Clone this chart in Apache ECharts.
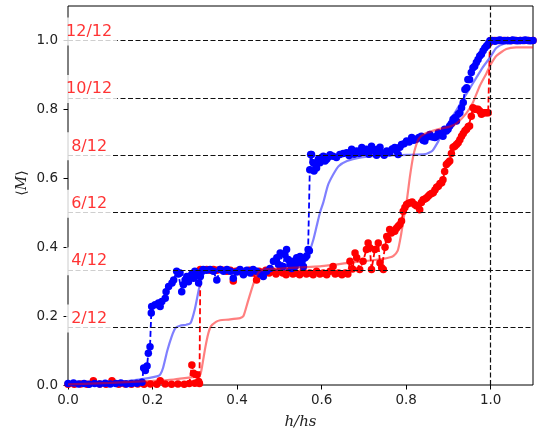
<!DOCTYPE html>
<html>
<head>
<meta charset="utf-8">
<script src="https://cdn.jsdelivr.net/npm/echarts@6/dist/echarts.min.js"></script>
<style>html,body{margin:0;padding:0;background:#fff;}#chart{width:540px;height:435px;}</style>
</head>
<body>
<div id="chart"></div>
<script>
// ---- data ----
const tickValues = [0, 0.2, 0.4, 0.6, 0.8, 1.0];
const levelLabels = ['2/12', '4/12', '6/12', '8/12', '10/12', '12/12'];
const levelValues = [2/12, 4/12, 6/12, 8/12, 10/12, 12/12];

// blue markers (dashed)
const blueX = [0.000,0.013,0.025,0.038,0.050,0.063,0.075,0.088,0.100,0.113,0.125,0.138,0.150,0.163,0.175,
  0.179,0.183,0.187,0.190,0.194,0.197,0.198,0.206,0.214,0.218,0.222,0.230,0.232,0.238,0.246,0.250,0.257,0.261,0.265,0.269,0.273,0.277,0.281,0.285,0.289,0.293,0.297,0.300,0.305,0.309,0.313,0.317,0.320,0.328,0.336,0.344,0.352,0.360,0.368,0.376,0.384,0.391,0.399,0.407,0.415,0.423,0.431,0.438,0.446,0.454,0.462,0.470,0.478,0.486,0.494,0.498,0.502,0.509,0.513,0.517,0.521,0.525,0.529,0.533,0.537,0.541,0.545,0.549,0.553,0.557,0.561,0.565,0.568,0.571,
  0.572,0.574,0.576,0.580,0.582,0.586,0.588,0.592,0.596,0.600,0.604,0.608,0.612,0.616,0.620,0.627,0.635,0.643,0.651,0.659,0.665,0.671,0.677,0.683,0.689,0.695,0.700,0.706,0.712,0.718,0.722,0.726,0.730,0.734,0.738,0.742,0.748,0.754,0.761,0.767,0.773,0.777,0.781,0.785,0.789,0.795,0.801,0.807,0.813,0.818,0.824,0.830,0.836,0.840,0.844,0.850,0.856,0.862,0.868,0.872,0.876,0.882,0.887,0.891,0.895,0.899,0.903,0.907,0.911,0.915,0.919,0.923,0.927,0.931,0.935,0.939,0.943,0.946,0.950,0.954,0.958,0.962,0.966,0.970,0.974,0.978,0.982,0.986,0.990,0.994,0.998,
  1.004,1.010,1.016,1.022,1.028,1.034,1.040,1.046,1.052,1.058,1.064,1.070,1.076,1.082,1.088,1.094,1.100];
const blueY = [0.004,0.006,0.003,0.004,0.002,0.004,0.003,0.005,0.003,0.004,0.006,0.003,0.004,0.005,0.008,
  0.049,0.042,0.055,0.092,0.111,0.209,0.228,0.233,0.238,0.228,0.242,0.252,0.271,0.286,0.296,0.305,0.330,0.322,0.325,0.271,0.291,0.305,0.315,0.300,0.315,0.322,0.310,0.330,0.318,0.296,0.315,0.330,0.335,0.333,0.335,0.330,0.305,0.335,0.330,0.335,0.330,0.310,0.328,0.335,0.320,0.333,0.325,0.335,0.330,0.322,0.315,0.330,0.338,0.359,0.369,0.350,0.383,0.344,0.378,0.393,0.364,0.350,0.338,0.359,0.344,0.369,0.355,0.373,0.359,0.344,0.369,0.375,0.393,0.390,
  0.625,0.669,0.669,0.645,0.621,0.640,0.630,0.655,0.645,0.660,0.664,0.650,0.655,0.662,0.668,0.664,0.660,0.669,0.672,0.674,0.666,0.684,0.670,0.679,0.672,0.689,0.676,0.684,0.670,0.693,0.685,0.679,0.667,0.684,0.690,0.674,0.667,0.679,0.674,0.685,0.689,0.680,0.669,0.690,0.698,0.700,0.708,0.705,0.718,0.710,0.713,0.718,0.722,0.710,0.708,0.720,0.727,0.720,0.718,0.722,0.732,0.728,0.722,0.742,0.737,0.742,0.752,0.758,0.771,0.776,0.766,0.786,0.790,0.805,0.820,0.858,0.863,0.887,0.887,0.907,0.921,0.925,0.936,0.945,0.955,0.960,0.970,0.978,0.984,0.990,0.999,
  1.000,0.998,1.000,1.001,0.999,1.000,1.000,0.999,1.001,1.000,0.999,1.000,1.000,1.001,1.000,0.999,1.000];

// red markers (dashed)
const redX = [0.000,0.015,0.030,0.045,0.060,0.075,0.090,0.104,0.120,0.135,0.150,0.165,0.180,0.195,0.210,0.218,0.230,0.245,0.260,0.275,0.287,0.293,0.297,0.300,0.305,0.309,0.311,
  0.313,0.320,0.328,0.336,0.344,0.352,0.360,0.368,0.376,0.384,0.391,0.397,0.405,0.413,0.421,0.429,0.437,0.446,0.452,0.460,0.468,0.476,0.484,0.492,0.500,0.508,0.516,0.524,0.532,0.540,0.548,0.556,0.564,0.572,0.580,0.588,0.596,0.604,0.612,0.620,0.627,0.632,0.640,0.648,0.656,0.662,
  0.667,0.673,0.679,0.683,0.690,0.698,0.706,0.710,0.714,0.718,0.726,0.734,0.738,0.742,0.746,0.750,0.754,0.757,0.761,0.765,0.769,0.773,0.777,0.781,0.785,0.789,0.793,0.797,0.801,0.805,0.809,0.814,0.820,0.824,0.828,0.832,0.836,0.840,0.844,0.848,0.852,0.856,0.860,0.864,0.868,0.872,0.876,0.880,0.884,0.887,0.891,0.895,0.899,0.903,0.907,0.911,0.915,0.919,0.923,0.927,0.931,0.935,0.939,0.943,0.947,0.950,0.954,0.958,0.962,0.966,0.970,0.974,0.978,0.982,0.986,0.990,0.994,0.998,
  1.000,1.010,1.020,1.030,1.040,1.050,1.060,1.070,1.080,1.090,1.100];
const redY = [0.002,0.002,0.003,0.002,0.012,0.003,0.002,0.012,0.002,0.003,0.002,0.003,0.002,0.003,0.002,0.012,0.003,0.002,0.003,0.002,0.004,0.058,0.034,0.005,0.030,0.010,0.004,
  0.335,0.333,0.335,0.333,0.335,0.333,0.335,0.333,0.330,0.333,0.302,0.330,0.333,0.325,0.330,0.333,0.325,0.305,0.330,0.325,0.333,0.325,0.330,0.322,0.330,0.325,0.320,0.330,0.322,0.325,0.320,0.330,0.322,0.325,0.320,0.330,0.322,0.325,0.320,0.330,0.344,0.322,0.325,0.320,0.325,0.322,
  0.359,0.337,0.383,0.369,0.335,0.359,0.393,0.412,0.398,0.335,0.393,0.412,0.354,0.340,0.335,0.400,0.431,0.422,0.451,0.441,0.446,0.446,0.455,0.461,0.466,0.476,0.504,0.515,0.524,0.527,0.529,0.531,0.524,0.520,0.519,0.509,0.530,0.538,0.540,0.543,0.548,0.553,0.556,0.558,0.566,0.574,0.577,0.585,0.587,0.596,0.620,0.640,0.645,0.650,0.672,0.690,0.693,0.698,0.703,0.712,0.722,0.730,0.738,0.742,0.750,0.752,0.780,0.805,0.800,0.800,0.800,0.795,0.786,0.790,0.790,0.790,0.790,0.995,
  1.000,1.000,1.000,1.000,1.000,1.000,1.000,1.000,1.000,1.000,1.000];

// light blue solid curve
const lightBlueX = [0,0.05,0.10,0.15,0.19,0.21,0.218,0.225,0.235,0.245,0.254,0.265,0.280,0.290,0.300,0.310,0.318,0.325,0.335,0.400,0.500,0.540,0.557,0.565,0.572,0.580,0.588,0.596,0.604,0.615,0.627,0.640,0.660,0.690,0.730,0.800,0.845,0.862,0.875,0.890,0.905,0.920,0.935,0.950,0.965,0.980,0.998,1.013,1.030,1.060,1.100];
const lightBlueY = [0.003,0.005,0.008,0.013,0.020,0.025,0.030,0.050,0.100,0.140,0.165,0.172,0.175,0.180,0.220,0.280,0.315,0.330,0.333,0.333,0.335,0.340,0.350,0.370,0.390,0.420,0.460,0.500,0.530,0.580,0.610,0.635,0.650,0.660,0.665,0.668,0.670,0.680,0.705,0.740,0.770,0.800,0.830,0.860,0.890,0.920,0.950,0.978,0.990,0.993,0.993];

// light red solid curve
const lightRedX = [0,0.10,0.20,0.25,0.29,0.305,0.313,0.318,0.325,0.332,0.338,0.350,0.360,0.380,0.407,0.415,0.425,0.435,0.442,0.450,0.460,0.500,0.600,0.667,0.720,0.746,0.760,0.770,0.780,0.787,0.795,0.802,0.809,0.816,0.822,0.830,0.845,0.875,0.903,0.920,0.943,0.958,0.974,0.990,0.998,1.013,1.037,1.060,1.100];
const lightRedY = [0.002,0.006,0.012,0.016,0.022,0.025,0.030,0.060,0.110,0.150,0.170,0.183,0.188,0.190,0.194,0.200,0.240,0.280,0.305,0.325,0.335,0.338,0.345,0.355,0.362,0.366,0.370,0.375,0.390,0.430,0.490,0.540,0.606,0.660,0.690,0.715,0.730,0.742,0.750,0.760,0.790,0.820,0.868,0.905,0.926,0.955,0.975,0.980,0.980];

// ---- build ----
const zip = (xs, ys) => xs.map((x, i) => [x, ys[i]]);
const chart = echarts.init(document.getElementById('chart'), null, {renderer: 'canvas'});

const hLines = levelValues.map(v => [{coord: [0, v]}, {coord: [1.1, v]}]);
hLines.push([{coord: [1.0, 0]}, {coord: [1.0, 1.1]}]);

const font = 'DejaVu Sans';
const option = {
  animation: false,
  backgroundColor: '#fff',
  grid: {left: 68, right: 7, top: 6, bottom: 50, show: true, borderColor: '#000', borderWidth: 1, backgroundColor: 'transparent'},
  xAxis: {
    type: 'value', min: 0, max: 1.1,
    axisLine: {show: false},
    splitLine: {show: false},
    axisTick: {show: true, inside: false, length: 4.5, lineStyle: {color: '#000', width: 1}, customValues: tickValues},
    axisLabel: {customValues: tickValues, formatter: v => v.toFixed(1), color: '#222', fontSize: 13.5, fontFamily: font, margin: 8},
    name: 'h/hs', nameLocation: 'middle', nameGap: 30,
    nameTextStyle: {fontFamily: 'DejaVu Serif', fontStyle: 'italic', fontSize: 15, color: '#222'}
  },
  yAxis: {
    type: 'value', min: 0, max: 1.1,
    axisLine: {show: false},
    splitLine: {show: false},
    axisTick: {show: true, inside: false, length: 4.5, lineStyle: {color: '#000', width: 1}, customValues: tickValues},
    axisLabel: {customValues: tickValues, formatter: v => v.toFixed(1), color: '#222', fontSize: 13.5, fontFamily: font, margin: 10}
  },
  graphic: [{
    type: 'text', x: 22, y: 183, rotation: Math.PI / 2,
    style: {
      text: '{a|⟨}{b|M}{a|⟩}', align: 'center', verticalAlign: 'middle',
      rich: {a: {fontFamily: font, fontSize: 14, fill: '#222'}, b: {fontFamily: 'DejaVu Serif', fontStyle: 'italic', fontSize: 14, fill: '#222'}}
    }
  }],
  series: [
    {
      type: 'line', data: [], z: 1, silent: true,
      markLine: {
        silent: true, symbol: ['none', 'none'], animation: false,
        label: {show: false},
        lineStyle: {color: '#111', width: 1.2, type: [5, 2.5]},
        emphasis: {disabled: true},
        data: hLines
      }
    },
    {
      type: 'line', data: zip(redX, redY), z: 2,
      symbol: 'circle', symbolSize: 7.5, showAllSymbol: true,
      itemStyle: {color: '#ff0000'},
      lineStyle: {color: '#ff0000', width: 1.8, type: [6, 3]}
    },
    {
      type: 'line', data: zip(blueX, blueY), z: 3,
      symbol: 'circle', symbolSize: 7.5, showAllSymbol: true,
      itemStyle: {color: '#0000ff'},
      lineStyle: {color: '#0000ff', width: 1.8, type: [6, 3]}
    },
    {
      type: 'line', data: zip(lightBlueX, lightBlueY), z: 4, symbol: 'none', smooth: 0.2,
      lineStyle: {color: 'rgba(0,0,255,0.5)', width: 2.2}
    },
    {
      type: 'line', data: zip(lightRedX, lightRedY), z: 4, symbol: 'none', smooth: 0.2,
      lineStyle: {color: 'rgba(255,0,0,0.5)', width: 2.2}
    },
    {
      type: 'scatter', z: 10, silent: true, symbolSize: 0,
      data: levelValues.map((v, i) => [0.05, v + 0.026, levelLabels[i]]),
      label: {
        show: true, position: 'inside', formatter: p => p.data[2],
        color: '#ff0000', fontSize: 16, fontFamily: font,
        backgroundColor: '#fff', padding: [6, 5], align: 'center', verticalAlign: 'middle'
      }
    }
  ]
};
chart.setOption(option);
</script>
</body>
</html>
